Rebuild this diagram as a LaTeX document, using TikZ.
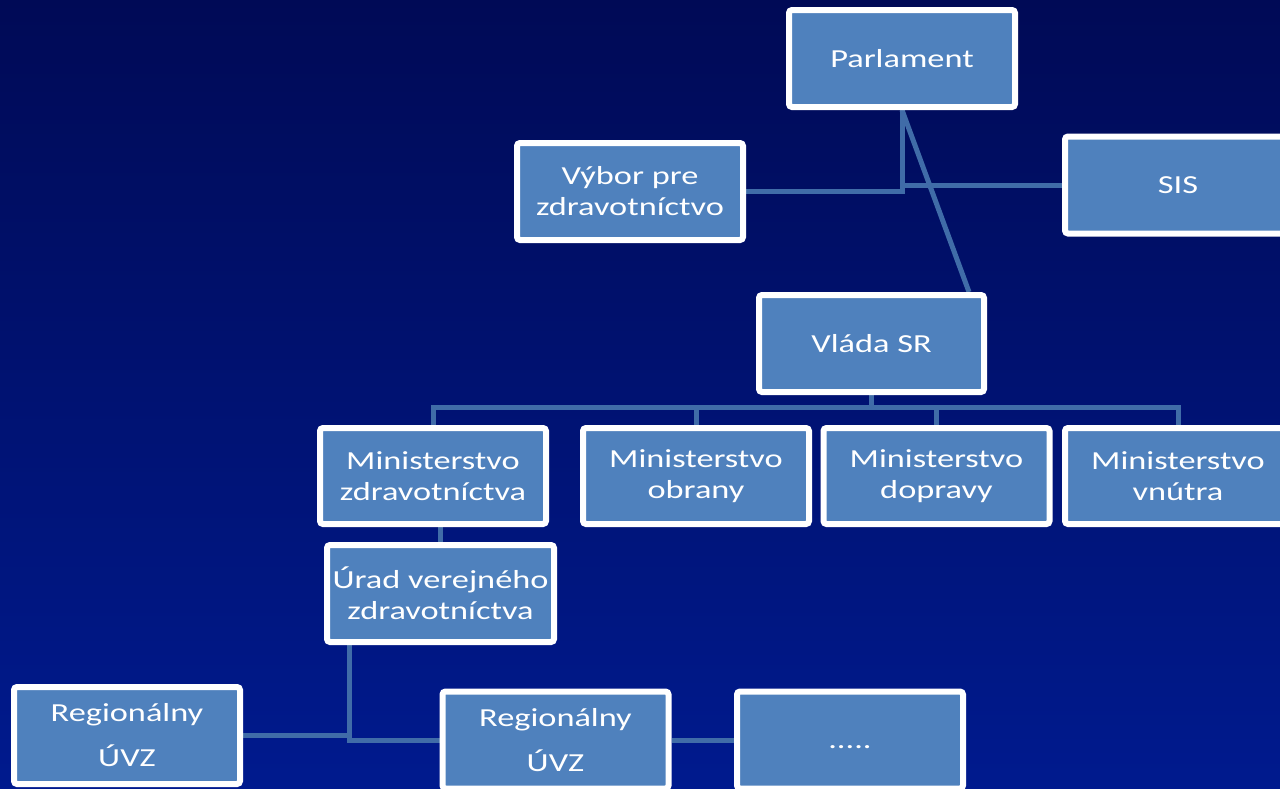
\documentclass[tikz,border=0pt]{standalone}
\usepackage{fontspec}
\setmainfont{Carlito}[FakeStretch=1.32]
\usetikzlibrary{calc}
\pgfdeclarelayer{bg}
\pgfdeclarelayer{wires}
\pgfsetlayers{bg,wires,main}
\definecolor{boxblue}{HTML}{4F81BD}
\definecolor{wire}{RGB}{64,108,168}
\definecolor{topbg}{RGB}{0,10,86}
\definecolor{botbg}{RGB}{0,26,142}
\begin{document}
\begin{tikzpicture}[x=1pt,y=-1pt,
  orgbox/.style={draw=white, line width=6pt, fill=boxblue, rounded corners=3pt,
    text=white, minimum width=226pt, minimum height=97pt, inner sep=0pt,
    align=center, font=\fontsize{26}{31}\selectfont},
  wideline/.style={font=\fontsize{26}{45}\selectfont},
  wireline/.style={draw=wire, line width=5pt}]
\useasboundingbox (0,0) rectangle (1280,788);
\begin{pgfonlayer}{bg}
\shade[top color=topbg, bottom color=botbg] (0,0) rectangle (1280,788);
\end{pgfonlayer}

\node[orgbox] (parl) at (902,58.5) {Parlament};
\node[orgbox] (vybor) at (630,191.5) {Výbor pre\\zdravotníctvo};
\node[orgbox] (sis) at (1178,185) {SIS};
\node[orgbox, minimum width=225pt] (vlada) at (871.5,343.5) {Vláda SR};
\node[orgbox, minimum height=96pt] (mz) at (433,476) {Ministerstvo\\zdravotníctva};
\node[orgbox, minimum height=96pt] (mo) at (696,476) {Ministerstvo\\obrany};
\node[orgbox, minimum height=96pt] (md) at (936.5,476) {Ministerstvo\\dopravy};
\node[orgbox, minimum height=96pt] (mv) at (1178,476) {Ministerstvo\\vnútra};
\node[orgbox, minimum width=227pt] (urad) at (440.5,593.5) {Úrad verejného\\zdravotníctva};
\node[orgbox, wideline] (reg1) at (127,735.5) {Regionálny\\ÚVZ};
\node[orgbox, wideline] (reg2) at (555.5,740) {Regionálny\\ÚVZ};
\node[orgbox] (dots) at (850,740) {\raisebox{-18pt}{.....}};

\coordinate (busy) at (0,407);
\coordinate (junc) at (349,740);

\begin{pgfonlayer}{wires}
\draw[wireline] (parl.south) |- (vybor.east);
\draw[wireline] (parl.south) |- (sis.west);
\draw[wireline] (parl.south) -- ([xshift=-18pt]vlada.north east);
\draw[wireline] (vlada.south) -- (vlada.south |- busy) -| (mz.north);
\draw[wireline] (vlada.south |- busy) -| (mo.north);
\draw[wireline] (vlada.south |- busy) -| (md.north);
\draw[wireline] (vlada.south |- busy) -| (mv.north);
\draw[wireline] (mz.south -| urad.north) -- (urad.north);
\draw[wireline] (urad.south -| junc) -- (junc) -- (reg2.west);
\draw[wireline] (reg1.east) -- (reg1.east -| junc);
\draw[wireline] (reg2.east) -- (dots.west);
\end{pgfonlayer}
\end{tikzpicture}
\end{document}
